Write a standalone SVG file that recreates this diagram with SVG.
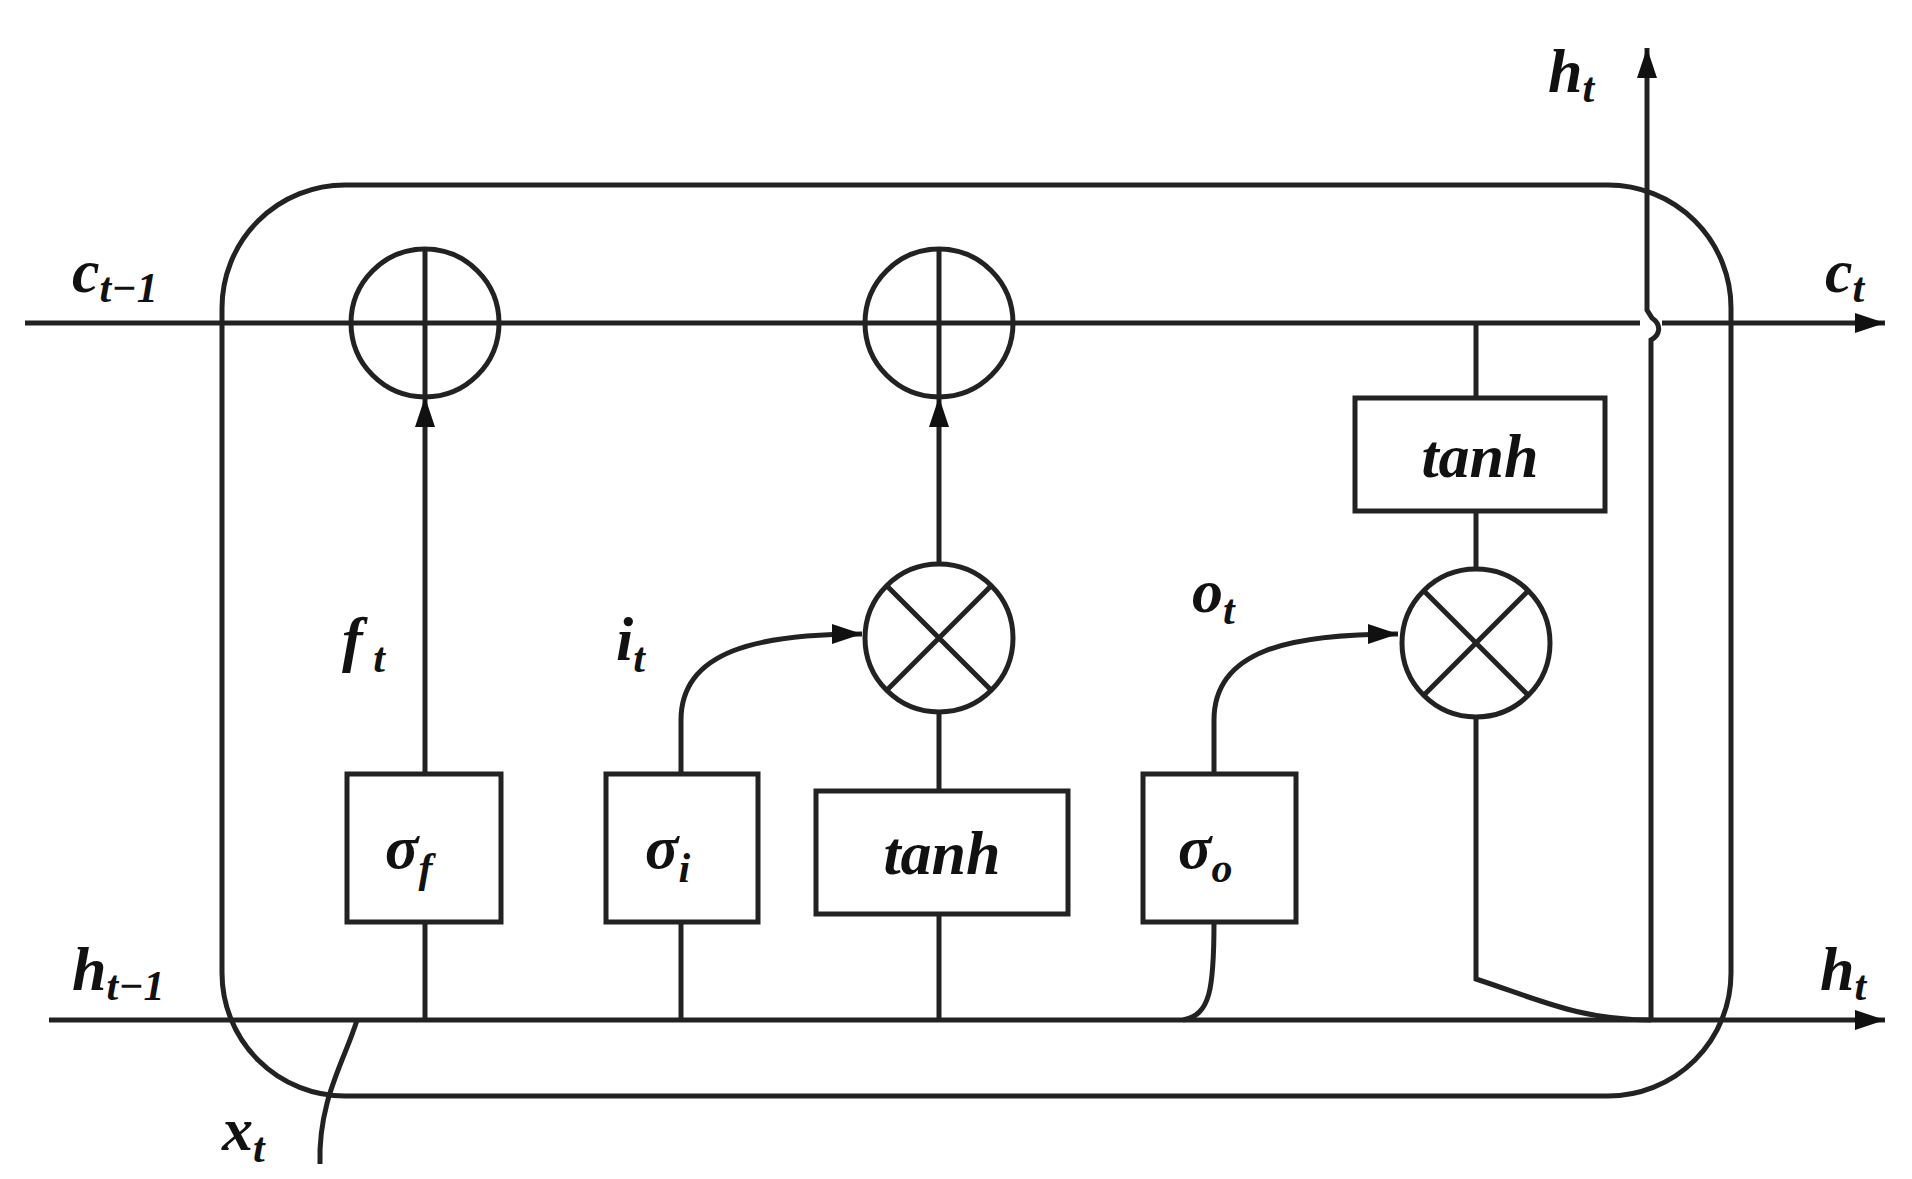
<svg xmlns="http://www.w3.org/2000/svg" width="1912" height="1179" viewBox="0 0 1912 1179">
<style>
.l{fill:none;stroke:#222;stroke-width:5}
.t{font-family:"Liberation Serif",serif;font-style:italic;font-weight:bold;fill:#111;font-size:62px}
.s{font-size:42px}
</style>
<defs>
<marker id="b" viewBox="0 0 30 20" refX="30" refY="10" markerWidth="30" markerHeight="20" markerUnits="userSpaceOnUse" orient="auto"><path d="M0,0L30,10L0,20z" fill="#111"/></marker>
</defs>
<rect width="1912" height="1179" fill="#fff"/>
<g id="cell"><rect class="l" x="222" y="185" width="1509" height="911" rx="123"/></g>
<g id="connectors">
<path class="l" d="M25,323H1640M1662,323H1885" marker-end="url(#b)"/>
<path class="l" d="M49,1020H1885" marker-end="url(#b)"/>
<path class="l" d="M425,1020V922M425,774V397" marker-end="url(#b)"/>
<path class="l" d="M681,1020V922"/>
<path class="l" d="M681,774V720C681,650 760,634 862,634" marker-end="url(#b)"/>
<path class="l" d="M939,1020V914M939,791V712"/>
<path class="l" d="M939,564V397" marker-end="url(#b)"/>
<path class="l" d="M1183,1020C1210,1015 1214,990 1214,922"/>
<path class="l" d="M1214,774V720C1214,650 1290,634 1398,634" marker-end="url(#b)"/>
<path class="l" d="M1476,323V398M1476,511V569M1476,717V979C1540,1000 1580,1020 1651,1020"/>
<path class="l" d="M1651,1020V340C1660,335 1662,325 1652,318L1647,310V48" marker-end="url(#b)"/>
<path class="l" d="M320,1164C318,1100 345,1060 357,1020"/>
</g>
<g id="plus1"><circle class="l" cx="425" cy="323" r="74"/><path class="l" d="M425,249V397"/></g>
<g id="plus2"><circle class="l" cx="939" cy="323" r="74"/><path class="l" d="M939,249V397"/></g>
<g id="mul1"><circle class="l" cx="939" cy="638" r="74"/><path class="l" d="M887,586L991,690M991,586L887,690"/></g>
<g id="mul2"><circle class="l" cx="1476" cy="643" r="74"/><path class="l" d="M1424,591L1528,695M1528,591L1424,695"/></g>
<g id="sf"><rect class="l" x="347" y="774" width="154" height="148"/><text class="t" x="385" y="868">σ<tspan class="s" dy="14">f</tspan></text></g>
<g id="si"><rect class="l" x="606" y="774" width="152" height="148"/><text class="t" x="645" y="868">σ<tspan class="s" dy="14">i</tspan></text></g>
<g id="tanh1"><rect class="l" x="816" y="791" width="252" height="123"/><text class="t" x="942" y="874" text-anchor="middle">tanh</text></g>
<g id="so"><rect class="l" x="1143" y="774" width="153" height="148"/><text class="t" x="1178" y="868">σ<tspan class="s" dy="14">o</tspan></text></g>
<g id="tanh2"><rect class="l" x="1355" y="398" width="250" height="113"/><text class="t" x="1480" y="477" text-anchor="middle">tanh</text></g>
<g id="labels">
<text class="t" x="72" y="292">c<tspan class="s" dy="10">t−1</tspan></text>
<text class="t" x="1825" y="292">c<tspan class="s" dy="10">t</tspan></text>
<text class="t" x="72" y="990">h<tspan class="s" dy="10">t−1</tspan></text>
<text class="t" x="1820" y="990">h<tspan class="s" dy="10">t</tspan></text>
<text class="t" x="1548" y="92">h<tspan class="s" dy="10">t</tspan></text>
<text class="t" x="342" y="660">f<tspan class="s" dy="12"> t</tspan></text>
<text class="t" x="616" y="660">i<tspan class="s" dy="12">t</tspan></text>
<text class="t" x="1192" y="612">o<tspan class="s" dy="12">t</tspan></text>
<text class="t" x="222" y="1150">x<tspan class="s" dy="12">t</tspan></text>
</g>
</svg>
